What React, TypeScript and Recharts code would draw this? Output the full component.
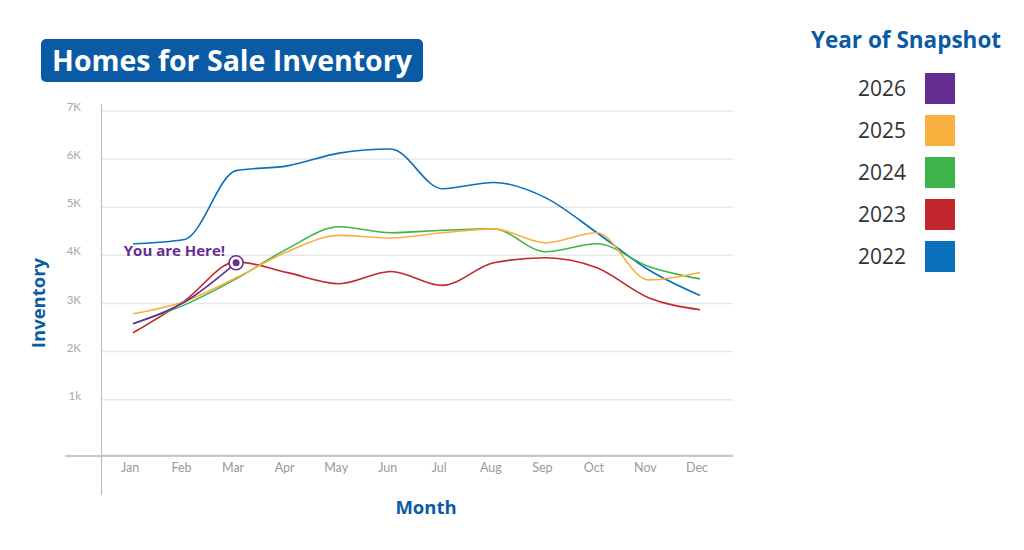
import { CartesianGrid, Line, LineChart, XAxis, YAxis } from "recharts";

const months = ["Jan", "Feb", "Mar", "Apr", "May", "Jun", "Jul", "Aug", "Sep", "Oct", "Nov", "Dec"];

const inv2022 = [4240, 4330, 5760, 5860, 6125, 6210, 5385, 5515, 5200, 4470, 3700, 3165];
const inv2023 = [2390, 3055, 3865, 3640, 3410, 3665, 3375, 3845, 3950, 3740, 3120, 2870];
const inv2024 = [2580, 2970, 3510, 4140, 4595, 4470, 4520, 4550, 4075, 4240, 3770, 3510];
const inv2025 = [2785, 3040, 3535, 4080, 4415, 4360, 4470, 4550, 4260, 4470, 3490, 3645];
const inv2026 = [2580, 3030, 3845];

const yTicks = [1000, 2000, 3000, 4000, 5000, 6000, 7000];
const yTickLabels = ["1k", "2K", "3K", "4K", "5K", "6K", "7K"];

const series = [
  { key: "2026", color: "#662d91", values: inv2026 },
  { key: "2025", color: "#f9b03f", values: inv2025 },
  { key: "2024", color: "#3cb44b", values: inv2024 },
  { key: "2023", color: "#c1272d", values: inv2023 },
  { key: "2022", color: "#0a6fbd", values: inv2022 },
];

const data = months.map((m, i) => {
  const row: Record<string, string | number | undefined> = { month: m };
  series.forEach((s) => {
    row[s.key] = s.values[i];
  });
  return row;
});

const blue = "#0b5aa6";
const boldFont = "'Open Sans', sans-serif";
const tickFont = "Lato, 'Open Sans', sans-serif";

function HereDot(props: any) {
  const { cx, cy, index } = props;
  if (index !== inv2026.length - 1) return <g key={`d${index}`} />;
  return (
    <g key={`d${index}`}>
      <circle cx={cx} cy={cy} r={7} fill="#fff" stroke="#662d91" strokeWidth={1.5} />
      <circle cx={cx} cy={cy} r={3.5} fill="#662d91" />
      <text x={cx - 11} y={cy - 7} textAnchor="end" fill="#662d91" fontFamily={boldFont} fontWeight={700} fontSize={15}>
        You are Here!
      </text>
    </g>
  );
}

export default function App() {
  // draw order: oldest first so 2026 sits on top
  const drawOrder = [...series].reverse();
  return (
    <div style={{ position: "absolute", left: 0, top: 0, width: 1024, height: 550, background: "#fff", overflow: "hidden" }}>
      <div
        style={{
          position: "absolute", left: 41, top: 39, width: 382, height: 43, background: blue, borderRadius: 5,
          color: "#fff", fontFamily: boldFont, fontWeight: 700, fontSize: 28.5, lineHeight: "43px", textAlign: "center",
          whiteSpace: "nowrap",
        }}
      >
        Homes for Sale Inventory
      </div>

      <LineChart width={760} height={550} data={data} margin={{ top: 111, right: 27, bottom: 65, left: 0 }} style={{ position: "absolute", left: 0, top: 0 }}>
        <CartesianGrid stroke="#e8e8e8" strokeWidth={1.5} vertical={false} />
        <XAxis
          dataKey="month"
          axisLine={false}
          tickLine={false}
          height={30}
          padding={{ left: 32, right: 33 }}
          tick={{ fill: "#9a9a9a", fontSize: 12.5, fontFamily: tickFont, dx: -3 }}
          tickMargin={2}
        />
        <YAxis
          type="number"
          domain={[-150, 7000]}
          ticks={yTicks}
          width={101}
          axisLine={false}
          tickLine={false}
          tickSize={0}
          tickMargin={20}
          tickFormatter={(v: number) => yTickLabels[yTicks.indexOf(v)] ?? ""}
          tick={{ fill: "#a8a8a8", fontSize: 11.5, fontFamily: tickFont, dy: -4 }}
        />
        {drawOrder.map((s) => (
          <Line
            key={s.key}
            dataKey={s.key}
            type="monotone"
            stroke={s.color}
            strokeWidth={1.6}
            dot={s.key === "2026" ? HereDot : false}
            activeDot={false}
            isAnimationActive={false}
            connectNulls={false}
          />
        ))}
      </LineChart>

      {/* axis rules, drawn longer than the plot area like the original */}
      <div style={{ position: "absolute", left: 101, top: 104, width: 1, height: 391, background: "#b8b8b8" }} />
      <div style={{ position: "absolute", left: 65, top: 455, width: 668, height: 2, background: "#c8c8c8" }} />

      <div
        style={{
          position: "absolute", left: 37, top: 303, transform: "translate(-50%, -50%) rotate(-90deg)",
          color: blue, fontFamily: boldFont, fontWeight: 700, fontSize: 18.5, whiteSpace: "nowrap",
        }}
      >
        Inventory
      </div>
      <div
        style={{
          position: "absolute", left: 426, top: 506, transform: "translate(-50%, -50%)",
          color: blue, fontFamily: boldFont, fontWeight: 700, fontSize: 18.5,
        }}
      >
        Month
      </div>

      <div
        style={{
          position: "absolute", left: 906, top: 39, transform: "translate(-50%, -50%)",
          color: blue, fontFamily: boldFont, fontWeight: 700, fontSize: 22.5, whiteSpace: "nowrap",
        }}
      >
        Year of Snapshot
      </div>
      {series.map((s, i) => (
        <div key={s.key} style={{ position: "absolute", left: 820, top: 73 + i * 42, width: 140, height: 31 }}>
          <span
            style={{
              position: "absolute", right: 54, top: 0, lineHeight: "31px", fontFamily: "'Open Sans', sans-serif",
              fontSize: 21, color: "#333",
            }}
          >
            {s.key}
          </span>
          <span style={{ position: "absolute", left: 105, top: 0, width: 30, height: 31, background: s.color }} />
        </div>
      ))}
    </div>
  );
}
